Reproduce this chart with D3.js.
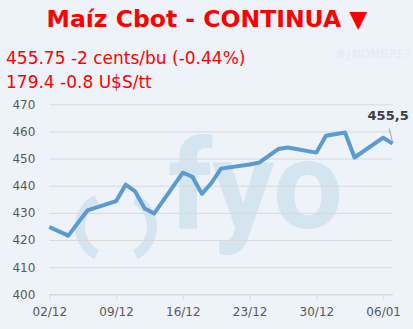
<!DOCTYPE html>
<html>
<head>
<meta charset="utf-8">
<script src="https://cdn.jsdelivr.net/npm/d3@7"></script>
<style>
  body { margin: 0; background: #EEF2F9; }
  svg { display: block; }
</style>
</head>
<body>
<div id="chart-area"></div>
<script>
// --- Data ---
var dates = ["02/12/2019","03/12/2019","04/12/2019","05/12/2019","06/12/2019",
	"09/12/2019","10/12/2019","11/12/2019","12/12/2019","13/12/2019",
	"16/12/2019","17/12/2019","18/12/2019","19/12/2019","20/12/2019",
	"23/12/2019","24/12/2019","26/12/2019","27/12/2019",
	"30/12/2019","31/12/2019","02/01/2020","03/01/2020",
	"06/01/2020","07/01/2020"];
var prices = [424.8, 423.2, 421.6, 426.3, 430.9,
	434.3, 440.4, 437.9, 431.6, 429.8,
	444.8, 443.3, 437.0, 441.0, 446.3,
	447.8, 448.5, 453.5, 454.1,
	452.2, 458.4, 459.6, 450.4,
	457.7, 455.5];
var yTicks = [400, 410, 420, 430, 440, 450, 460, 470];
var xTickLabels = ["02/12/2019", "09/12/2019", "16/12/2019", "23/12/2019", "30/12/2019", "06/01/2020"];

var title = "Maíz Cbot - CONTINUA ▼";
var subLine1 = "455.75 -2 cents/bu (-0.44%)";
var subLine2 = "179.4 -0.8 U$S/tt";
var lastLabel = "455,5";

var parseDate = d3.timeParse("%d/%m/%Y");
var data = dates.map((d, i) => { return {date: parseDate(d), value: prices[i]}; });

// --- Canvas ---
var canvasWidth = 413;
var canvasHeight = 329;
var canvas = d3.select("#chart-area").append("svg")
	.attr("width", canvasWidth)
	.attr("height", canvasHeight);

canvas.append("rect")
	.attr("width", canvasWidth)
	.attr("height", canvasHeight)
	.attr("fill", "#EEF2F9");

var margins = {top: 104.3, bottom: 34.7, left: 49.3, right: 20.3};
var graphWidth = canvasWidth - margins.left - margins.right;
var graphHeight = canvasHeight - margins.top - margins.bottom;

// --- Scales ---
var xScale = d3.scaleTime()
	.domain([data[0].date, data[data.length - 1].date])
	.range([0, graphWidth]);
var yScale = d3.scaleLinear()
	.domain([400, 470])
	.range([graphHeight, 0]);

// --- Watermark (logo) ---
var mark = canvas.append("g")
	.attr("fill", "#D4E5F0")
	.attr("font-family", "Roboto")
	.attr("font-weight", "bold");
mark.append("text")
	.attr("x", 168).attr("y", 228)
	.attr("font-size", "124px")
	.attr("letter-spacing", "-0.5px")
	.text("fyo");

// the two brackets of the logo
var bracket = d3.arc().innerRadius(26).outerRadius(36);
mark.append("path")
	.attr("transform", "translate(111,227)")
	.attr("d", bracket({startAngle: -2.66, endAngle: -0.48}));
mark.append("path")
	.attr("transform", "translate(121,227)")
	.attr("d", bracket({startAngle: 0.48, endAngle: 2.66}));

// --- Titles ---
canvas.append("text")
	.attr("x", 207)
	.attr("y", 27)
	.attr("text-anchor", "middle")
	.attr("font-family", "DejaVu Sans")
	.attr("font-weight", "bold")
	.attr("font-size", "23.5px")
	.attr("fill", "#FF0000")
	.text(title);

canvas.append("text")
	.attr("x", 6)
	.attr("y", 64)
	.attr("font-family", "DejaVu Sans")
	.attr("font-size", "17px")
	.attr("fill", "#FF0000")
	.text(subLine1);

canvas.append("text")
	.attr("x", 6)
	.attr("y", 88)
	.attr("font-family", "DejaVu Sans")
	.attr("font-size", "17px")
	.attr("fill", "#FF0000")
	.text(subLine2);

canvas.append("text")
	.attr("x", 411)
	.attr("y", 58)
	.attr("text-anchor", "end")
	.attr("font-family", "DejaVu Sans")
	.attr("font-size", "12px")
	.attr("fill", "#E6EAF2")
	.text("#¿NOMBRE?");

var graph = canvas.append("g")
	.attr("transform", "translate(" + margins.left + "," + margins.top + ")");

// --- Axes ---
var yAxis = d3.axisLeft(yScale)
	.tickValues(yTicks)
	.tickSize(-graphWidth)
	.tickPadding(14)
	.tickFormat(d3.format("d"));
var yAxisGroup = graph.append("g").call(yAxis);
yAxisGroup.select(".domain").remove();
yAxisGroup.selectAll("line").attr("stroke", "#D9D9D9").attr("stroke-width", 1);
yAxisGroup.selectAll("text")
	.attr("font-family", "DejaVu Sans")
	.attr("font-size", "12px")
	.attr("fill", "#595959");

var xAxis = d3.axisBottom(xScale)
	.tickValues(xTickLabels.map(parseDate))
	.tickSize(5)
	.tickPadding(8)
	.tickFormat(d3.timeFormat("%d/%m"));
var xAxisGroup = graph.append("g")
	.attr("transform", "translate(0," + graphHeight + ")")
	.call(xAxis);
xAxisGroup.select(".domain").attr("stroke", "#D9D9D9").attr("d", "M0,0.5H" + graphWidth);
xAxisGroup.selectAll("line").attr("stroke", "#D9D9D9");
xAxisGroup.selectAll("text")
	.attr("font-family", "DejaVu Sans")
	.attr("font-size", "12px")
	.attr("fill", "#595959");

// --- Line ---
var line = d3.line()
	.x((d) => { return xScale(d.date); })
	.y((d) => { return yScale(d.value); });

graph.append("path")
	.datum(data)
	.attr("fill", "none")
	.attr("stroke", "#5B9BD5")
	.attr("stroke-width", 4)
	.attr("stroke-linejoin", "round")
	.attr("d", line);

// --- Last value label ---
var last = data[data.length - 1];
var lx = xScale(last.date);
var ly = yScale(last.value);
graph.append("line")
	.attr("x1", lx).attr("y1", ly - 1)
	.attr("x2", lx - 3.5).attr("y2", ly - 15)
	.attr("stroke", "#A6A6A6")
	.attr("stroke-width", 1);
graph.append("text")
	.attr("x", lx + 16)
	.attr("y", ly - 24)
	.attr("text-anchor", "end")
	.attr("font-family", "DejaVu Sans")
	.attr("font-weight", "bold")
	.attr("font-size", "13px")
	.attr("fill", "#404040")
	.text(lastLabel);
</script>
</body>
</html>
